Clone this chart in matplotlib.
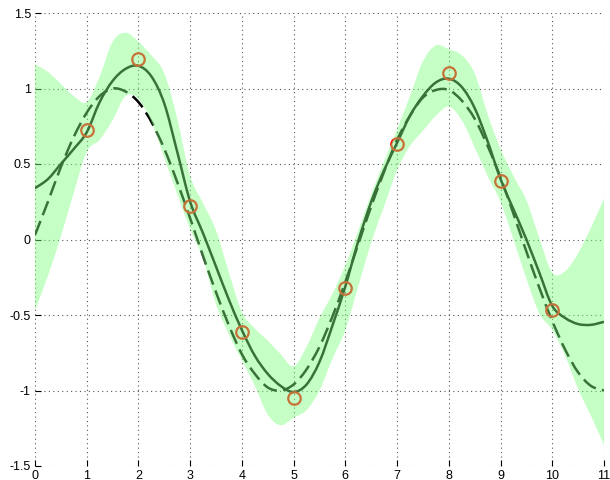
import matplotlib
matplotlib.use('Agg')
import matplotlib.pyplot as plt
from matplotlib.path import Path
from matplotlib.patches import PathPatch
import numpy as np

# observations
x_obs = [1, 2, 3, 4, 5, 6, 7, 8, 9, 10]
y_obs = [0.725, 1.195, 0.222, -0.613, -1.05, -0.32, 0.632, 1.10, 0.387, -0.467]

# curves read at a step of 0.25 from 0 to 11
x_grid = np.arange(0, 11.001, 0.25)
mean = [0.34, 0.40, 0.50, 0.60, 0.71, 0.91, 1.05, 1.13, 1.15, 1.08, 0.90, 0.58,
        0.25, 0.04, -0.18, -0.40, -0.60, -0.77, -0.89, -0.97, -1.01, -0.96, -0.81, -0.57,
        -0.31, -0.01, 0.25, 0.46, 0.64, 0.82, 0.95, 1.04, 1.065, 1.01, 0.87, 0.65,
        0.40, 0.20, 0.00, -0.22, -0.44, -0.52, -0.56, -0.565, -0.545]
upper = [1.16, 1.11, 1.03, 0.95, 0.91, 1.08, 1.31, 1.37, 1.31, 1.22, 1.10, 0.80,
         0.42, 0.24, 0.06, -0.22, -0.48, -0.59, -0.67, -0.76, -0.84, -0.71, -0.52, -0.36,
         -0.17, 0.06, 0.30, 0.52, 0.73, 0.95, 1.18, 1.285, 1.26, 1.22, 1.10, 0.83,
         0.60, 0.42, 0.26, 0.01, -0.22, -0.21, -0.09, 0.08, 0.27]
lower = [-0.47, -0.24, 0.02, 0.31, 0.58, 0.66, 0.79, 0.95, 0.93, 0.78, 0.54, 0.30,
         0.07, -0.13, -0.43, -0.63, -0.80, -0.97, -1.16, -1.23, -1.18, -1.13, -1.00, -0.79,
         -0.60, -0.31, -0.02, 0.22, 0.46, 0.62, 0.72, 0.82, 0.88, 0.79, 0.61, 0.42,
         0.25, 0.00, -0.26, -0.49, -0.60, -0.77, -0.99, -1.17, -1.36]
truth = [0.03, 0.25, 0.48, 0.68, 0.84, 0.95, 1.00, 0.98, 0.91, 0.78, 0.60, 0.38,
         0.14, -0.11, -0.35, -0.57, -0.76, -0.89, -0.98, -1.00, -0.96, -0.86, -0.71, -0.51,
         -0.28, -0.03, 0.22, 0.45, 0.66, 0.82, 0.94, 0.99, 0.99, 0.92, 0.80, 0.62,
         0.41, 0.17, -0.08, -0.32, -0.54, -0.73, -0.88, -0.97, -1.00]


def bezier_through(xs, ys):
    # smooth curve through the read points (Catmull-Rom as cubic Bezier)
    pts = np.column_stack([xs, ys])
    n = len(pts)
    verts = [pts[0]]
    codes = [Path.MOVETO]
    for i in range(n - 1):
        p0 = pts[max(i - 1, 0)]
        p1 = pts[i]
        p2 = pts[i + 1]
        p3 = pts[min(i + 2, n - 1)]
        verts += [p1 + (p2 - p0) / 6, p2 - (p3 - p1) / 6, p2]
        codes += [Path.CURVE4] * 3
    return verts, codes


fig = plt.figure(figsize=(6.1, 4.8), dpi=100)
ax = fig.add_axes([35/610, 1-466/480, 569/610, 453/480])

v, c = bezier_through(x_grid, truth)
ax.add_patch(PathPatch(Path(v, c), fill=False, edgecolor='black', lw=1.8,
                       linestyle=(0, (6, 2.5)), zorder=2))
v, c = bezier_through(x_grid, mean)
ax.add_patch(PathPatch(Path(v, c), fill=False, edgecolor='black', lw=1.8, zorder=2))
ax.plot(x_obs, y_obs, 'o', mfc='none', mec='red', ms=9, mew=1.6, zorder=3)

# translucent band on top, like the original
vu, cu = bezier_through(x_grid, upper)
vl, cl = bezier_through(x_grid[::-1], lower[::-1])
cl[0] = Path.LINETO
band = Path(vu + vl + [vu[0]], cu + cl + [Path.CLOSEPOLY])
ax.add_patch(PathPatch(band, facecolor=(0.5, 1.0, 0.5), alpha=0.45, lw=0, zorder=4))

ax.set_xlim(0, 11)
ax.set_ylim(-1.5, 1.5)
ax.set_xticks(range(12))
ax.set_yticks([-1.5, -1, -0.5, 0, 0.5, 1, 1.5])
ax.set_yticklabels(['-1.5', '-1', '-0.5', '0', '0.5', '1', '1.5'])
ax.grid(True, color='#555555', linestyle=(0, (1, 3)), lw=0.8)
ax.set_axisbelow(True)
for s in ax.spines.values():
    s.set_visible(False)
ax.tick_params(direction='in', length=4, width=0.8, labelsize=9, pad=3)
for lab in ax.get_xticklabels() + ax.get_yticklabels():
    lab.set_family(['Liberation Sans', 'DejaVu Sans'])

fig.savefig('out.png', dpi=100)
